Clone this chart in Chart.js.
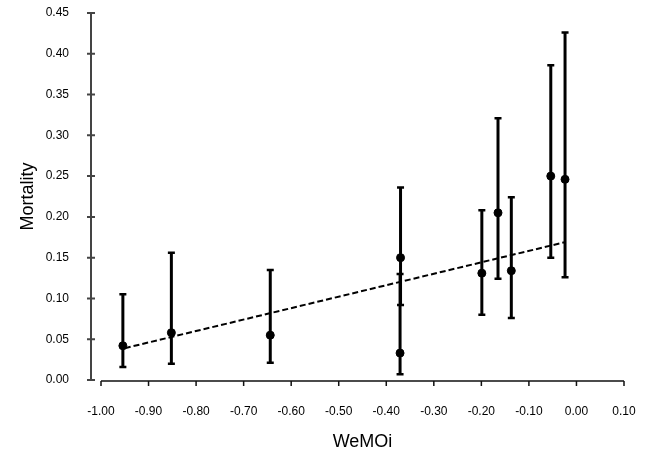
<!DOCTYPE html>
<html>
<head>
<meta charset="utf-8">
<script src="https://cdn.jsdelivr.net/npm/chart.js@4/dist/chart.umd.min.js"></script>
<style>
  body { margin: 0; background: #fff; }
  canvas { display: block; }
</style>
</head>
<body>
<canvas id="mortalityChart" width="648" height="453"></canvas>
<script>
// values
const wemoi = [-0.954, -0.852, -0.644, -0.370, -0.371, -0.199, -0.165, -0.137, -0.054, -0.024];
const mortality = [0.042, 0.058, 0.055, 0.150, 0.033, 0.131, 0.205, 0.134, 0.250, 0.246];
const errLow = [0.016, 0.020, 0.021, 0.092, 0.007, 0.080, 0.124, 0.076, 0.150, 0.126];
const errHigh = [0.105, 0.156, 0.135, 0.236, 0.130, 0.208, 0.321, 0.224, 0.386, 0.426];

// dashed fit line end points
const trendX = [-0.950, -0.024];
const trendY = [0.039, 0.169];

const xTicks = [-1.0, -0.9, -0.8, -0.7, -0.6, -0.5, -0.4, -0.3, -0.2, -0.1, 0.0, 0.1];
const yTicks = [0.0, 0.05, 0.10, 0.15, 0.20, 0.25, 0.30, 0.35, 0.40, 0.45];

const font = "'Liberation Sans', Arial, Helvetica, sans-serif";

// error bars, drawn under the dots
const errorBars = {
  id: "errorBars",
  beforeDatasetsDraw(chart) {
    const { ctx, scales: { x, y } } = chart;
    ctx.save();
    ctx.strokeStyle = "#000";
    wemoi.forEach((v, i) => {
      const px = x.getPixelForValue(v);
      const top = y.getPixelForValue(errHigh[i]);
      const bot = y.getPixelForValue(errLow[i]);
      ctx.lineWidth = 3;
      ctx.beginPath();
      ctx.moveTo(px, top);
      ctx.lineTo(px, bot);
      ctx.stroke();
      ctx.lineWidth = 2.5;
      ctx.beginPath();
      ctx.moveTo(px - 3.5, top);
      ctx.lineTo(px + 3.5, top);
      ctx.moveTo(px - 3.5, bot);
      ctx.lineTo(px + 3.5, bot);
      ctx.stroke();
    });
    ctx.restore();
  }
};

// axis lines: y axis sits a little left of where the x axis starts
const axisLines = {
  id: "axisLines",
  afterDraw(chart) {
    const { ctx, chartArea, scales: { x, y } } = chart;
    ctx.save();
    const ax = chartArea.left - 10;
    ctx.strokeStyle = "#444";
    ctx.lineWidth = 2;
    ctx.beginPath();
    ctx.moveTo(ax, y.getPixelForValue(yTicks[yTicks.length - 1]));
    ctx.lineTo(ax, y.getPixelForValue(yTicks[0]));
    yTicks.forEach(t => {
      const py = y.getPixelForValue(t);
      ctx.moveTo(ax - 4, py);
      ctx.lineTo(ax + 4, py);
    });
    ctx.stroke();

    const ay = chartArea.bottom + 1;
    ctx.strokeStyle = "#111";
    ctx.lineWidth = 1.5;
    ctx.beginPath();
    ctx.moveTo(x.getPixelForValue(xTicks[0]), ay);
    ctx.lineTo(x.getPixelForValue(xTicks[xTicks.length - 1]), ay);
    xTicks.forEach(t => {
      const px = x.getPixelForValue(t);
      ctx.moveTo(px, ay);
      ctx.lineTo(px, ay + 5);
    });
    ctx.stroke();
    ctx.restore();
  }
};

const fmt = v => (Math.abs(v) < 1e-9 ? 0 : v).toFixed(2);

new Chart(document.getElementById("mortalityChart"), {
  type: "scatter",
  data: {
    datasets: [
      {
        label: "Mortality",
        data: wemoi.map((v, i) => ({ x: v, y: mortality[i] })),
        backgroundColor: "#000",
        borderColor: "#000",
        pointRadius: 4,
        pointHoverRadius: 4
      },
      {
        label: "Fit",
        data: trendX.map((v, i) => ({ x: v, y: trendY[i] })),
        showLine: true,
        borderColor: "#000",
        borderWidth: 2,
        borderDash: [6, 3],
        pointRadius: 0
      }
    ]
  },
  options: {
    responsive: false,
    animation: false,
    layout: { padding: { left: 16, top: 13, right: 24, bottom: 0 } },
    plugins: {
      legend: { display: false },
      tooltip: { enabled: false }
    },
    scales: {
      x: {
        type: "linear",
        min: xTicks[0],
        max: xTicks[xTicks.length - 1],
        afterBuildTicks: s => { s.ticks = xTicks.map(v => ({ value: v })); },
        afterFit: s => {
          s.height = 73;
          s.paddingLeft = 0;
          s.paddingRight = 0;
        },
        grid: { display: false, drawTicks: false },
        border: { display: false },
        ticks: {
          padding: 24,
          color: "#000",
          font: { family: font, size: 12 },
          maxRotation: 0,
          callback: fmt
        },
        title: {
          display: true,
          text: "WeMOi",
          color: "#000",
          font: { family: font, size: 18 },
          padding: { top: 0, bottom: 0 }
        }
      },
      y: {
        min: yTicks[0],
        max: yTicks[yTicks.length - 1],
        afterBuildTicks: s => { s.ticks = yTicks.map(v => ({ value: v })); },
        afterFit: s => {
          s.width = 85;
          s.paddingTop = 7;
          s.paddingBottom = 7;
        },
        grid: { display: false, drawTicks: false },
        border: { display: false },
        ticks: {
          padding: 32,
          color: "#000",
          font: { family: font, size: 12 },
          callback: fmt
        },
        title: {
          display: true,
          text: "Mortality",
          color: "#000",
          font: { family: font, size: 18 },
          padding: { top: 1, bottom: 0 }
        }
      }
    }
  },
  plugins: [errorBars, axisLines]
});
</script>
</body>
</html>
